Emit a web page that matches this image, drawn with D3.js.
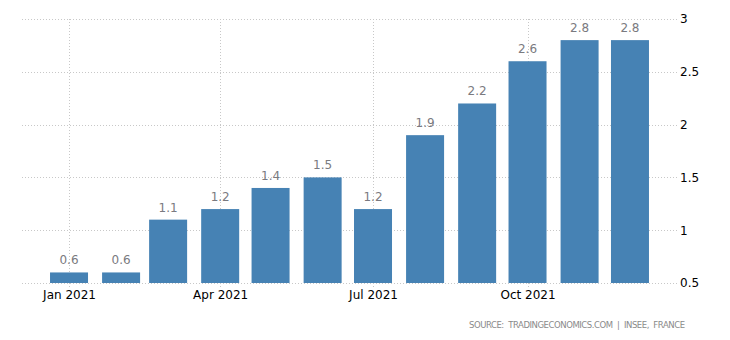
<!DOCTYPE html>
<html><head><meta charset="utf-8">
<script src="https://cdn.jsdelivr.net/npm/d3@7"></script>
<style>body{margin:0;background:#fff}svg{display:block}text{font-family:"DejaVu Sans",Tahoma,sans-serif}</style>
</head><body><svg id="c" width="730" height="340"></svg>
<script>
const months = ["2021-01-01","2021-02-01","2021-03-01","2021-04-01","2021-05-01","2021-06-01","2021-07-01","2021-08-01","2021-09-01","2021-10-01","2021-11-01","2021-12-01"];
const values = [0.6,0.6,1.1,1.2,1.4,1.5,1.2,1.9,2.2,2.6,2.8,2.8];
const yTicks = [0.5,1,1.5,2,2.5,3];
const xTickDates = ["2021-01-01","2021-04-01","2021-07-01","2021-10-01"];
const source = "SOURCE:  TRADINGECONOMICS.COM  |  INSEE,  FRANCE";

const parse = d3.utcParse("%Y-%m-%d");
const svg = d3.select("#c");
const L = 22, R = 677, T = 19, B = 283;
const day = 864e5;
const x = d3.scaleUtc().domain([new Date(parse("2021-01-01") - 28*day), new Date(+parse("2021-01-01") + 362*day)]).range([L, R]);
const y = d3.scaleLinear().domain([0.5, 3]).range([B, T]);
const bw = 38;

// horizontal grid
svg.append("g").selectAll("line").data(yTicks).join("line")
  .attr("x1", L).attr("x2", R).attr("y1", d => Math.round(y(d)) + 0.5).attr("y2", d => Math.round(y(d)) + 0.5)
  .attr("stroke", "#c8c8c8").attr("stroke-dasharray", "1,2");
// vertical grid
svg.append("g").selectAll("line").data(xTickDates).join("line")
  .attr("x1", d => Math.round(x(parse(d))) + 0.5).attr("x2", d => Math.round(x(parse(d))) + 0.5)
  .attr("y1", T).attr("y2", B + 4)
  .attr("stroke", "#c8c8c8").attr("stroke-dasharray", "1,2");

// bars
svg.append("g").selectAll("rect").data(values).join("rect")
  .attr("x", (d, i) => x(parse(months[i])) - bw / 2)
  .attr("width", bw)
  .attr("y", d => y(d))
  .attr("height", d => B - y(d))
  .attr("fill", "#4682b4");

// value labels
svg.append("g").selectAll("text").data(values).join("text")
  .attr("x", (d, i) => x(parse(months[i])))
  .attr("y", d => y(d) - 8)
  .attr("text-anchor", "middle")
  .attr("font-size", 12).attr("fill", "#7a7a80")
  .text(d => d3.format(".1f")(d));

// y axis labels (right)
const yAxis = d3.axisRight(y).tickValues(yTicks).tickSize(0).tickPadding(0).tickFormat(d3.format("~g"));
const gy = svg.append("g").attr("transform", `translate(${R + 3},0)`).call(yAxis);
gy.select(".domain").remove();
gy.selectAll("text").attr("font-size", 12).attr("fill", "#000").attr("font-family", "DejaVu Sans, sans-serif");

// x axis labels
const xAxis = d3.axisBottom(x).tickValues(xTickDates.map(parse)).tickSize(0).tickPadding(0).tickFormat(d3.utcFormat("%b %Y"));
const gx = svg.append("g").attr("transform", `translate(0,${B + 7})`).call(xAxis);
gx.select(".domain").remove();
gx.selectAll("text").attr("font-size", 12).attr("fill", "#000").attr("font-family", "DejaVu Sans, sans-serif");

// source
svg.append("text").attr("x", 469).attr("y", 328)
  .attr("font-size", 8.5).attr("fill", "#8a8a8a")
  .attr("textLength", 216).attr("lengthAdjust", "spacing")
  .style("white-space", "pre")
  .text(source);
</script></body></html>
